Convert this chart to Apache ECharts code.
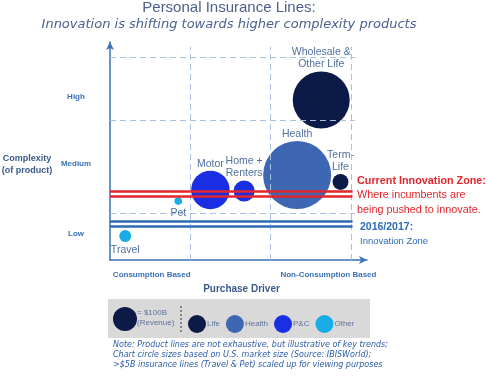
<!DOCTYPE html>
<html><head><meta charset="utf-8">
<script src="https://cdn.jsdelivr.net/npm/echarts@6/dist/echarts.min.js"></script>
<style>html,body{margin:0;padding:0;background:#fff}#c{width:489px;height:377px}</style>
</head><body><div id="c"></div>
<script>
// ---- data ----
const productNames = ['Travel', 'Pet', 'Motor', 'Home +\nRenters', 'Health', 'Term-\nLife', 'Wholesale &\nOther Life'];
const productGroups = ['Other', 'Other', 'P&C', 'P&C', 'Health', 'Life', 'Life'];
const purchaseDriver = [0.19, 0.85, 1.25, 1.67, 2.33, 2.87, 2.63];      // columns (0 = consumption based)
const complexity = [1.54, 3.79, 4.50, 4.43, 5.46, 5.01, 10.28];          // complexity scale
const revenueB = [25, 10, 257, 77, 803, 44, 564];                        // $B (illustrative)
const groupNames = ['Life', 'Health', 'P&C', 'Other'];
const xTickValues = [0.52, 2.72];
const xTickLabels = ['Consumption Based', 'Non-Consumption Based'];
const yTickValues = [1.67, 6.17, 10.47];
const yTickLabels = ['Low', 'Medium', 'High'];
const gridXValues = [1, 2, 3];
const gridYValues = [3, 9, 13];
const currentZone = [4.11, 4.43];
const pastZone = [2.18, 2.47];
const legendRevenue = 100;
const labelBelow = ['Travel', 'Pet'];

// ---- styles ----
const groupColors = { 'Life': '#0c1a47', 'Health': '#3d67b3', 'P&C': '#1a2fe3', 'Other': '#18ade6' };
const FONT = 'Liberation Sans';
const sizeOf = r => 2.4 * Math.sqrt(r);

const bubbleSeries = groupNames.map(g => ({
  name: g, type: 'scatter', z: 3,
  itemStyle: { color: groupColors[g], opacity: 1 },
  symbol: 'circle',
  symbolSize: v => sizeOf(v[2]),
  label: {
    show: true, formatter: p => p.data.name, color: '#50709e', fontSize: 10.5,
    fontFamily: FONT, lineHeight: 12, distance: 1
  },
  data: productNames.map((n, i) => ({ n, i })).filter(o => productGroups[o.i] === g).map(o => ({
    name: o.n,
    value: [purchaseDriver[o.i], complexity[o.i], revenueB[o.i]],
    label: { position: labelBelow.includes(o.n) ? 'bottom' : 'top', distance: labelBelow.includes(o.n) ? 2 : 1 }
  }))
}));

const gridLines = [];
gridYValues.forEach(v => gridLines.push([{ coord: [0, v] }, { coord: [3.05, v] }]));
gridXValues.forEach(v => gridLines.push([{ coord: [v, 0] }, { coord: [v, 13.7] }]));

const zoneLine = (vals, color) => vals.map(v => [{ coord: [0, v], lineStyle: { color } }, { coord: [3.02, v] }]);

const chart = echarts.init(document.getElementById('c'));
chart.setOption({
  animation: false,
  backgroundColor: '#fff',
  grid: { left: 110, right: 122, top: 42, bottom: 117 },
  xAxis: {
    type: 'value', min: 0, max: 3.2,
    axisLine: { show: true, symbol: ['none', 'arrow'], symbolSize: [6, 8], lineStyle: { color: '#3a72b8', width: 1.5 } },
    axisTick: { show: false }, splitLine: { show: false },
    axisLabel: {
      customValues: xTickValues, margin: 11, fontSize: 8, fontWeight: 'bold', color: '#3a72b8', fontFamily: FONT,
      formatter: v => xTickLabels[xTickValues.indexOf(v)] || ''
    },
    name: 'Purchase Driver', nameLocation: 'middle', nameGap: 24,
    nameTextStyle: { fontSize: 10, fontWeight: 'bold', color: '#3a5a8c', fontFamily: FONT, padding: [0, 0, 0, 6] }
  },
  yAxis: {
    type: 'value', min: 0, max: 14,
    axisLine: { show: true, symbol: ['none', 'arrow'], symbolSize: [6, 8], lineStyle: { color: '#3a72b8', width: 1.5 } },
    axisTick: { show: false }, splitLine: { show: false },
    axisLabel: {
      customValues: yTickValues, margin: 34, align: 'center', fontSize: 8, fontWeight: 'bold', color: '#3a72b8', fontFamily: FONT,
      formatter: v => yTickLabels[yTickValues.indexOf(v)] || ''
    }
  },
  legend: {
    data: groupNames, left: 183, top: 310, itemWidth: 18, itemHeight: 18, itemGap: 6, icon: 'circle',
    selectedMode: false, textStyle: { fontSize: 8, color: '#5f7399', fontFamily: FONT, padding: [0, 0, 0, -4] }
  },
  series: [
    {
      type: 'line', data: [], z: 1, silent: true,
      markLine: {
        silent: true, symbol: 'none', label: { show: false },
        lineStyle: { type: [6, 4], color: '#a9c0e0', width: 1 },
        data: gridLines
      }
    },
    {
      type: 'line', data: [], z: 2, silent: true,
      markLine: {
        silent: true, symbol: 'none', label: { show: false },
        lineStyle: { type: 'solid', width: 2.5, color: '#2e6bb5' },
        data: zoneLine(pastZone, '#2e6bb5')
      }
    },
    ...bubbleSeries,
    {
      type: 'line', data: [], z: 6, silent: true,
      markLine: {
        silent: true, symbol: 'none', label: { show: false },
        lineStyle: { type: 'solid', width: 2.5, color: '#e3262c' },
        data: zoneLine(currentZone, '#e3262c')
      }
    }
  ],
  graphic: [
    { type: 'text', x: 229, y: 8, style: { text: 'Personal Insurance Lines:', font: '15px "Liberation Sans"', fill: '#4b5f8c', align: 'center', verticalAlign: 'middle' } },
    { type: 'text', x: 229, y: 25, style: { text: 'Innovation is shifting towards higher complexity products', font: 'italic 13px "DejaVu Sans"', fill: '#4a6190', align: 'center', verticalAlign: 'middle' } },
    { type: 'text', x: 27, y: 165, style: { text: 'Complexity\n(of product)', font: 'bold 9px "Liberation Sans"', lineHeight: 12, fill: '#3a5a8c', align: 'center', verticalAlign: 'middle' } },
    { type: 'text', x: 357, y: 181, style: { text: 'Current Innovation Zone:', font: 'bold 10.8px "Liberation Sans"', fill: '#e3262c', verticalAlign: 'middle' } },
    { type: 'text', x: 357, y: 203, style: { text: 'Where incumbents are\nbeing pushed to innovate.', font: '10.8px "Liberation Sans"', lineHeight: 15, fill: '#e3262c', verticalAlign: 'middle' } },
    { type: 'text', x: 360, y: 227, style: { text: '2016/2017:', font: 'bold 10.5px "Liberation Sans"', fill: '#2e6bb5', verticalAlign: 'middle' } },
    { type: 'text', x: 360, y: 241, style: { text: 'Innovation Zone', font: '9.5px "Liberation Sans"', fill: '#2e6bb5', verticalAlign: 'middle' } },
    { type: 'rect', z: -10, shape: { x: 108, y: 299, width: 262, height: 39 }, style: { fill: '#d9d9d9' } },
    { type: 'circle', shape: { cx: 125, cy: 319, r: sizeOf(legendRevenue) / 2 }, style: { fill: groupColors['Life'] } },
    { type: 'text', x: 137, y: 318, style: { text: '= $' + legendRevenue + 'B\n(Revenue)', font: '8px "Liberation Sans"', lineHeight: 10, fill: '#5f7399', verticalAlign: 'middle' } },
    { type: 'line', shape: { x1: 181, y1: 306, x2: 181, y2: 333 }, style: { stroke: '#333', lineWidth: 1, lineDash: [2, 2] } },
    { type: 'text', x: 113, y: 355, style: { text: 'Note: Product lines are not exhaustive, but illustrative of key trends;\nChart circle sizes based on U.S. market size (Source: IBISWorld);\n>$5B insurance lines (Travel & Pet) scaled up for viewing purposes', font: 'italic 8px "DejaVu Sans"', lineHeight: 10, fill: '#2a5bab', verticalAlign: 'middle' } }
  ]
});
</script>
</body></html>
